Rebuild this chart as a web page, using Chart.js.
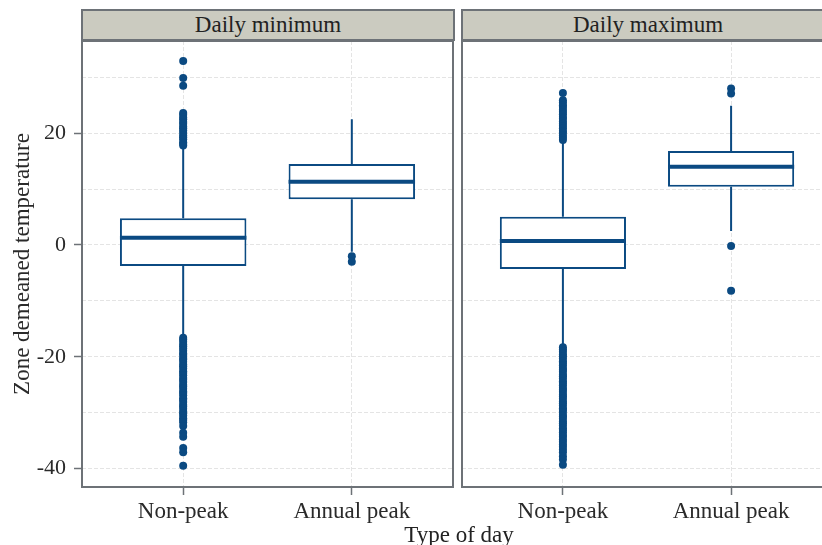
<!DOCTYPE html>
<html>
<head>
<meta charset="utf-8">
<script src="https://cdn.jsdelivr.net/npm/chart.js@4.4.1/dist/chart.umd.min.js"></script>
<style>
  html, body { margin: 0; padding: 0; background: #fff; overflow: hidden; }
  body { width: 822px; height: 545px; position: relative; font-family: "Liberation Serif", serif; color: #222; }
  canvas { position: absolute; top: 0; }
  #c1 { left: 0; }
  #c2 { left: 456px; }
  .strip { position: absolute; top: 9px; height: 28px; line-height: 28px; background: #cbcbc0;
           border: 2px solid #6d7277; font-size: 23px; text-align: center; }
  #s1 { left: 81px; width: 370px; }
  #s2 { left: 461px; width: 370px; }
  #xtitle { position: absolute; left: 359px; width: 200px; top: 522px; font-size: 23px; line-height: 26px; text-align: center; }
</style>
</head>
<body>
<canvas id="c1" width="457" height="545"></canvas>
<canvas id="c2" width="380" height="545"></canvas>
<div class="strip" id="s1"></div>
<div class="strip" id="s2"></div>
<div id="xtitle"></div>
<script>
// facets and categories
const panels = ["Daily minimum", "Daily maximum"];
const categories = ["Non-peak", "Annual peak"];
const yTickLabels = [-40, -20, 0, 20];
const xTitle = "Type of day";
const yTitle = "Zone demeaned temperature";

// Daily minimum: box stats per category
const minQ1 = [-3.75, 8.2];
const minMedian = [1.3, 11.3];
const minQ3 = [4.8, 14.5];
const minWhiskerLow = [-16.2, -1.2];
const minWhiskerHigh = [17.4, 22.5];
const minOutNonPeak = [32.9, 29.9, 28.5, 23.6, 23.3, 22.8, 22.5, 22.0, 21.7, 21.2, 20.9, 20.5, 20.1, 19.6, 19.3, 18.9, 18.4, 18.1, 17.8,
  -16.6, -16.9, -17.3, -17.8, -18.1, -18.5, -18.9, -19.4, -19.7, -20.2, -20.5, -20.9, -21.4, -21.7, -22.1, -22.6, -22.9,
  -23.3, -23.8, -24.1, -24.5, -25.0, -25.3, -25.7, -26.2, -26.5, -26.9, -27.4, -27.7, -28.1, -28.6, -28.9, -29.3, -29.8,
  -30.1, -30.5, -31.0, -31.3, -31.7, -32.4, -33.6, -34.3, -36.3, -37.1, -39.5];
const minOutPeak = [-2.0, -3.0];

// Daily maximum: box stats per category
const maxQ1 = [-4.3, 10.4];
const maxMedian = [0.7, 14.0];
const maxQ3 = [5.05, 16.8];
const maxWhiskerLow = [-17.9, 2.5];
const maxWhiskerHigh = [18.4, 24.9];
const maxOutNonPeak = [27.2, 25.9, 25.5, 25.0, 24.7, 24.2, 23.8, 23.4, 22.9, 22.6, 22.1, 21.7, 21.3, 20.9, 20.4, 20.1, 19.6, 19.2, 18.8,
  -18.3, -18.7, -19.1, -19.6, -19.9, -20.3, -20.8, -21.1, -21.5, -22.0, -22.3, -22.7, -23.2, -23.5, -23.9, -24.4, -24.7,
  -25.1, -25.6, -25.9, -26.3, -26.8, -27.1, -27.5, -28.0, -28.3, -28.7, -29.2, -29.5, -29.9, -30.4, -30.7, -31.1, -31.6,
  -31.9, -32.3, -32.8, -33.1, -33.5, -34.0, -34.3, -34.8, -35.2, -35.7, -36.1, -36.6, -37.1, -37.8, -38.4, -39.3];
const maxOutPeak = [28.0, 27.1, -0.2, -8.2];

const BLUE = "#0b4a82";
const GRID = "#e4e4e4";
const FRAME = "#6d7277";
const TEXT = "#2a2a2a";
const BOX_HALF = 0.375;
const tickFont = { family: "Liberation Serif", size: 22 };
const xTickFont = { family: "Liberation Serif", size: 23 };
const titleFont = { family: "Liberation Serif", size: 23 };

document.getElementById("s1").textContent = panels[0];
document.getElementById("s2").textContent = panels[1];
document.getElementById("xtitle").textContent = xTitle;

const panelBorder = {
  id: "panelBorder",
  afterDraw(chart) {
    const { ctx, chartArea: a } = chart;
    ctx.save();
    ctx.strokeStyle = FRAME;
    ctx.lineWidth = 2;
    ctx.strokeRect(a.left, a.top, a.right - a.left, a.bottom - a.top);
    ctx.restore();
  }
};

function makePanel(id, q1, med, q3, wLo, wHi, outliers, showY) {
  const pos = categories.map((c, i) => i + 1);
  const whiskers = [], medians = [], points = [];
  pos.forEach((x, i) => {
    whiskers.push({ x, y: q3[i] }, { x, y: wHi[i] }, { x, y: null });
    whiskers.push({ x, y: q1[i] }, { x, y: wLo[i] }, { x, y: null });
    medians.push({ x: x - BOX_HALF, y: med[i] }, { x: x + BOX_HALF, y: med[i] }, { x: x + 0.5, y: null });
    outliers[i].forEach(v => points.push({ x, y: v }));
  });

  new Chart(document.getElementById(id), {
    type: "bar",
    data: {
      datasets: [
        { type: "scatter", data: points, backgroundColor: BLUE, borderWidth: 0, pointRadius: 4 },
        { type: "line", data: medians, borderColor: BLUE, borderWidth: 4, pointRadius: 0, borderCapStyle: "butt" },
        { type: "bar", data: pos.map((x, i) => ({ x, y: [q1[i], q3[i]] })), backgroundColor: "#fff",
          borderColor: BLUE, borderWidth: 2, borderSkipped: false, barPercentage: 0.75, categoryPercentage: 1 },
        { type: "line", data: whiskers, borderColor: BLUE, borderWidth: 2, pointRadius: 0 }
      ]
    },
    options: {
      responsive: false,
      animation: false,
      layout: { padding: { top: 41, right: showY ? 2 : 1, left: showY ? 0 : 6, bottom: 0 } },
      plugins: { legend: { display: false }, tooltip: { enabled: false } },
      scales: {
        x: {
          type: "linear", min: 0.4, max: 2.6, offset: false,
          afterBuildTicks: s => { s.ticks = pos.map(v => ({ value: v })); },
          afterFit: s => { s.height = 58; },
          ticks: { callback: (v, i) => categories[i], font: xTickFont, color: TEXT, padding: 3, maxRotation: 0, autoSkip: false },
          grid: { offset: false, color: GRID, lineWidth: 1, tickLength: 8, tickColor: FRAME, tickWidth: 1.5 },
          border: { display: false, dash: [4, 2] }
        },
        y: {
          min: -43.3, max: 36.5,
          afterFit: s => { s.width = showY ? 82 : 0; },
          ticks: { stepSize: 10, includeBounds: false, display: showY, font: tickFont, color: TEXT, padding: 8,
                   callback: v => yTickLabels.includes(v) ? String(v) : "" },
          grid: { color: GRID, lineWidth: 1, drawTicks: showY, tickLength: 8, tickWidth: 1.5,
                  tickColor: c => yTickLabels.includes(c.tick && c.tick.value) ? FRAME : "rgba(0,0,0,0)" },
          border: { display: false, dash: [4, 2] },
          title: { display: showY, text: yTitle, font: titleFont, color: TEXT, padding: { top: 9, bottom: 0 } }
        }
      }
    },
    plugins: [panelBorder]
  });
}

makePanel("c1", minQ1, minMedian, minQ3, minWhiskerLow, minWhiskerHigh, [minOutNonPeak, minOutPeak], true);
makePanel("c2", maxQ1, maxMedian, maxQ3, maxWhiskerLow, maxWhiskerHigh, [maxOutNonPeak, maxOutPeak], false);
</script>
</body>
</html>
